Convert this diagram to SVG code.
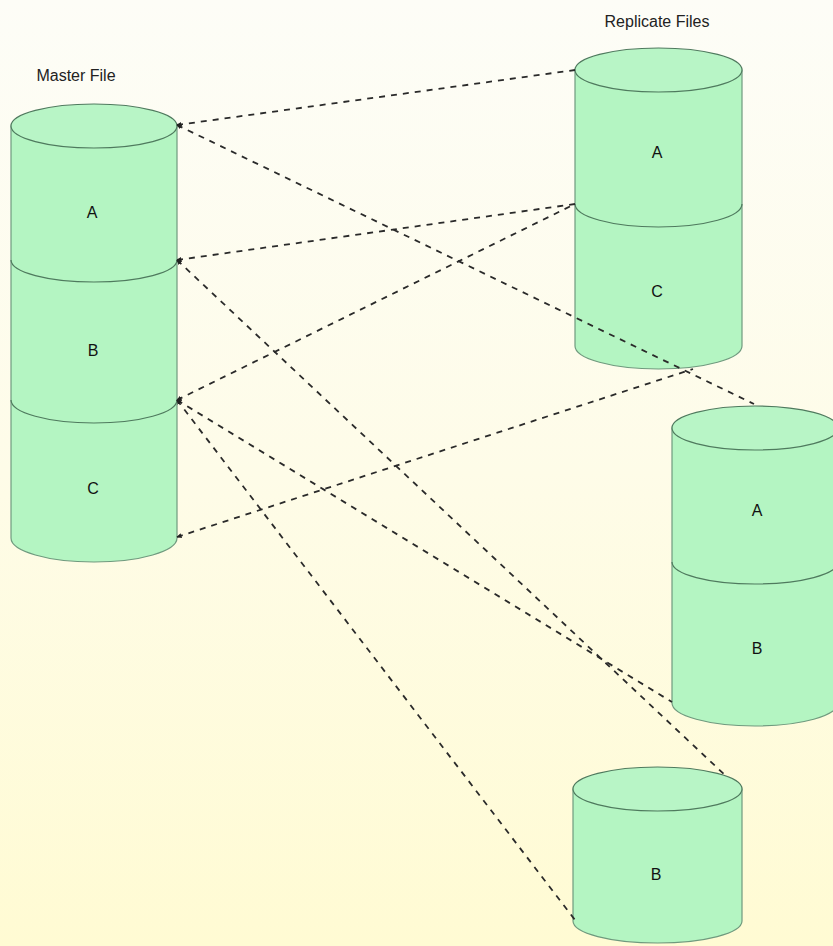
<svg xmlns="http://www.w3.org/2000/svg" width="833" height="946" viewBox="0 0 833 946">
<defs>
<linearGradient id="bg" x1="0" y1="0" x2="0" y2="1">
<stop offset="0" stop-color="#fdfdf7"/>
<stop offset="0.5" stop-color="#fefce8"/>
<stop offset="1" stop-color="#fffbd3"/>
</linearGradient>
<marker id="ah" viewBox="0 0 10 10" refX="9" refY="5" markerWidth="5" markerHeight="5" orient="auto-start-reverse" markerUnits="userSpaceOnUse">
<path d="M0,0 L10,5 L0,10 Z" fill="#222"/>
</marker>
<style>
.body{fill:#b4f5c2;stroke:#6f9a7e;stroke-width:1.2}
.top{fill:#b8f5c6;stroke:#4f7a5e;stroke-width:1.2}
.div{fill:none;stroke:#4f7a5e;stroke-width:1.2}
.lbl{font-family:"Liberation Sans",Arial,sans-serif;font-size:16px;fill:#111;text-anchor:middle}
.ttl{font-family:"Liberation Sans",Arial,sans-serif;font-size:16px;fill:#222;text-anchor:middle}
.con{fill:none;stroke:#2a2a2a;stroke-width:1.8;stroke-dasharray:6 6}
</style>
</defs>
<rect x="0" y="0" width="833" height="946" fill="url(#bg)"/>
<text class="ttl" x="76" y="81">Master File</text>
<text class="ttl" x="657" y="27">Replicate Files</text>

<g id="master">
<path class="body" d="M11,126 V538 A83,24 0 0 0 177,538 V126 Z"/>
<ellipse class="top" cx="94" cy="126" rx="83" ry="22"/>
<path class="div" d="M11,260 A83,22 0 0 0 177,260"/>
<path class="div" d="M11,400 A83,23 0 0 0 177,400"/>
<text class="lbl" x="92" y="218">A</text>
<text class="lbl" x="93" y="356">B</text>
<text class="lbl" x="93" y="494">C</text>
</g>

<g id="rep1">
<path class="body" d="M575,70 V346 A83.5,23 0 0 0 742,346 V70 Z"/>
<ellipse class="top" cx="658.5" cy="70" rx="83.5" ry="22"/>
<path class="div" d="M575,204 A83.5,23 0 0 0 742,204"/>
<text class="lbl" x="657" y="158">A</text>
<text class="lbl" x="657" y="297">C</text>
</g>

<g id="rep2">
<path class="body" d="M672,428 V703 A83,23 0 0 0 838,703 V428 Z"/>
<ellipse class="top" cx="755" cy="428" rx="83" ry="22"/>
<path class="div" d="M672,562 A83,22 0 0 0 838,562"/>
<text class="lbl" x="757" y="516">A</text>
<text class="lbl" x="757" y="654">B</text>
</g>

<g id="rep3">
<path class="body" d="M573,789 V921 A84.5,22 0 0 0 742,921 V789 Z"/>
<ellipse class="top" cx="657.5" cy="789" rx="84.5" ry="22"/>
<text class="lbl" x="656" y="880">B</text>
</g>

<g id="connectors">
<path class="con" marker-start="url(#ah)" d="M177,125 L575,70"/>
<path class="con" marker-start="url(#ah)" d="M177,125 L754,404"/>
<path class="con" marker-start="url(#ah)" d="M177,260 L575,204"/>
<path class="con" marker-start="url(#ah)" d="M177,260 L727,777"/>
<path class="con" marker-start="url(#ah)" d="M177,400 L575,204"/>
<path class="con" marker-start="url(#ah)" d="M177,400 L672,702"/>
<path class="con" marker-start="url(#ah)" d="M177,400 L575,920"/>
<path class="con" marker-start="url(#ah)" d="M177,537 L693,369"/>
</g>
</svg>
